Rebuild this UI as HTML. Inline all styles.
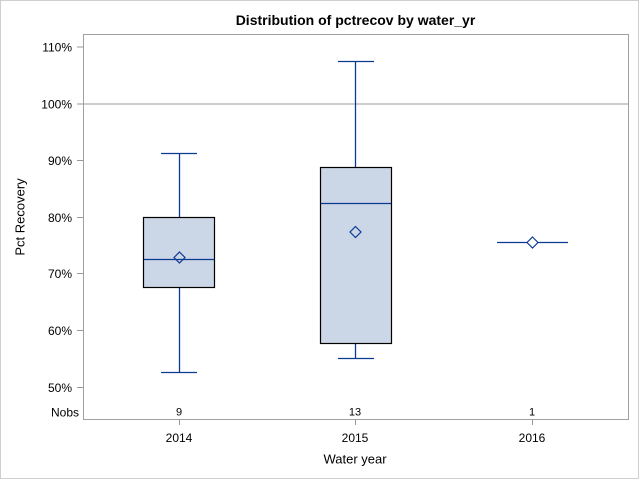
<!DOCTYPE html>
<html><head><meta charset="utf-8"><style>
html,body{margin:0;padding:0;background:#fff;}
svg{display:block;}
text{font-family:"Liberation Sans",Arial,sans-serif;fill:#000;}
</style></head><body>
<svg width="640" height="480" viewBox="0 0 640 480" xmlns="http://www.w3.org/2000/svg">
<rect x="0.5" y="0.5" width="638" height="478" fill="#fff" stroke="#cfcfcf" stroke-width="1"/>
<text x="355.5" y="25" font-size="14" font-weight="bold" text-anchor="middle">Distribution of pctrecov by water_yr</text>
<!-- plot frame -->
<rect x="83.5" y="34.5" width="545" height="385" fill="none" stroke="#a0a0a0" stroke-width="1"/>
<!-- reference line 100% -->
<line x1="84" y1="104" x2="628" y2="104" stroke="#999" stroke-width="1"/>
<!-- y ticks -->
<g stroke="#999" stroke-width="1">
<line x1="77" y1="47" x2="83" y2="47"/>
<line x1="77" y1="104" x2="83" y2="104"/>
<line x1="77" y1="160.5" x2="83" y2="160.5"/>
<line x1="77" y1="217.5" x2="83" y2="217.5"/>
<line x1="77" y1="273.5" x2="83" y2="273.5"/>
<line x1="77" y1="330.5" x2="83" y2="330.5"/>
<line x1="77" y1="387.5" x2="83" y2="387.5"/>
<line x1="179.5" y1="420" x2="179.5" y2="425"/>
<line x1="355.5" y1="420" x2="355.5" y2="425"/>
<line x1="532.5" y1="420" x2="532.5" y2="425"/>
</g>
<g font-size="12" text-anchor="end">
<text x="72" y="51.5">110%</text>
<text x="72" y="108.5">100%</text>
<text x="72" y="165">90%</text>
<text x="72" y="222">80%</text>
<text x="72" y="278">70%</text>
<text x="72" y="335">60%</text>
<text x="72" y="392">50%</text>
<text x="79" y="416.5">Nobs</text>
</g>
<text x="24.5" y="217" font-size="13" text-anchor="middle" transform="rotate(-90 24.5 217)">Pct Recovery</text>
<g font-size="11" text-anchor="middle">
<text x="179" y="415.5">9</text>
<text x="355" y="415.5">13</text>
<text x="532" y="415.5">1</text>
</g>
<g font-size="12" text-anchor="middle">
<text x="179" y="442">2014</text>
<text x="355" y="442">2015</text>
<text x="532" y="442">2016</text>
</g>
<text x="355" y="463.5" font-size="13" text-anchor="middle">Water year</text>

<!-- 2014 -->
<g stroke="#0b3a91" stroke-width="1.3" fill="none">
<line x1="179.5" y1="153.5" x2="179.5" y2="217"/>
<line x1="161" y1="153.5" x2="197" y2="153.5"/>
<line x1="179.5" y1="287" x2="179.5" y2="372.5"/>
<line x1="161" y1="372.5" x2="197" y2="372.5"/>
</g>
<rect x="143.5" y="217.5" width="71" height="70" fill="#cbd6e6" stroke="#000" stroke-width="1.2"/>
<line x1="144" y1="259.5" x2="214" y2="259.5" stroke="#0b3a91" stroke-width="1.2"/>
<path d="M179.5 252 L185 257.5 L179.5 263 L174 257.5 Z" fill="none" stroke="#0b3a91" stroke-width="1.2"/>

<!-- 2015 -->
<g stroke="#0b3a91" stroke-width="1.3" fill="none">
<line x1="355.5" y1="61.5" x2="355.5" y2="167"/>
<line x1="338" y1="61.5" x2="374" y2="61.5"/>
<line x1="355.5" y1="344" x2="355.5" y2="358.5"/>
<line x1="338" y1="358.5" x2="374" y2="358.5"/>
</g>
<rect x="320.5" y="167.5" width="71" height="176" fill="#cbd6e6" stroke="#000" stroke-width="1.2"/>
<line x1="321" y1="203.5" x2="391" y2="203.5" stroke="#0b3a91" stroke-width="1.2"/>
<path d="M355.5 226.5 L361 232 L355.5 237.5 L350 232 Z" fill="none" stroke="#0b3a91" stroke-width="1.2"/>

<!-- 2016 -->
<line x1="497" y1="242.5" x2="568" y2="242.5" stroke="#0b3a91" stroke-width="1.3"/>
<path d="M532.5 237 L538 242.5 L532.5 248 L527 242.5 Z" fill="#fff" stroke="#0b3a91" stroke-width="1.2"/>
</svg>
</body></html>
